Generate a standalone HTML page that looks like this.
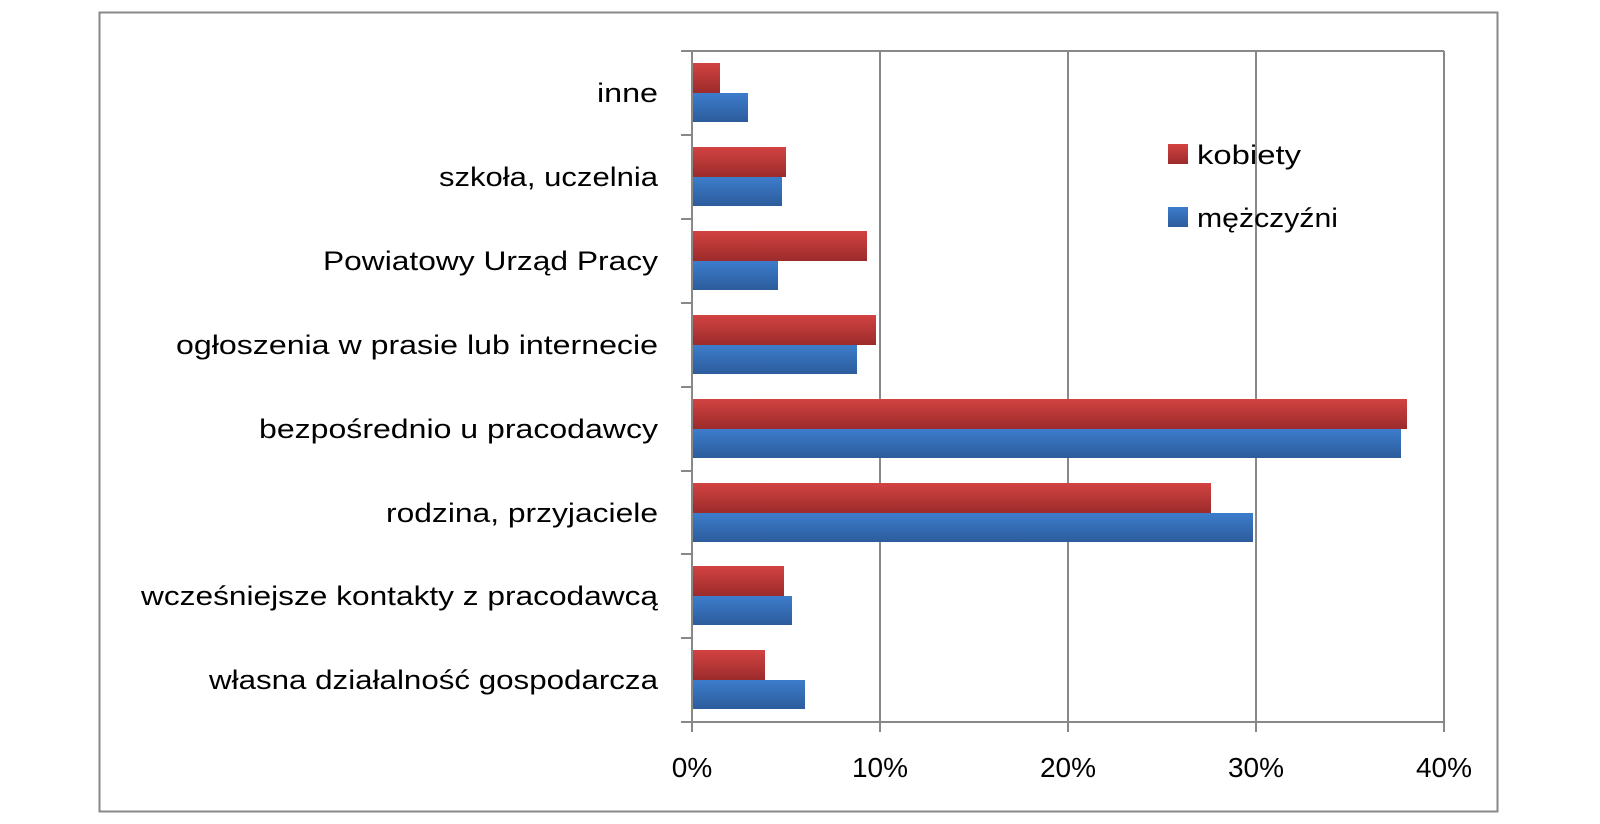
<!DOCTYPE html>
<html><head><meta charset="utf-8"><style>body{margin:0;background:#fff}svg{display:block}</style></head><body>
<svg width="1600" height="824" viewBox="0 0 1600 824" xmlns="http://www.w3.org/2000/svg" font-family="'Liberation Sans', sans-serif">
<defs>
<linearGradient id="r" x1="0" y1="0" x2="0" y2="1"><stop offset="0" stop-color="#d24342"/><stop offset="1" stop-color="#9c2b2b"/></linearGradient>
<linearGradient id="b" x1="0" y1="0" x2="0" y2="1"><stop offset="0" stop-color="#3d7dcc"/><stop offset="1" stop-color="#2c5c9c"/></linearGradient>
</defs>
<rect x="99.5" y="12.5" width="1398" height="799" fill="#fff" stroke="#888" stroke-width="2"/>
<g stroke="#888" stroke-width="2">
<line x1="692" y1="51" x2="1444" y2="51"/>
<line x1="880" y1="51" x2="880" y2="722"/>
<line x1="1068" y1="51" x2="1068" y2="722"/>
<line x1="1256" y1="51" x2="1256" y2="722"/>
<line x1="1444" y1="51" x2="1444" y2="722"/>
<line x1="692" y1="51" x2="692" y2="732"/>
<line x1="681" y1="722" x2="1444" y2="722"/>
<line x1="880" y1="722" x2="880" y2="732"/><line x1="1068" y1="722" x2="1068" y2="732"/><line x1="1256" y1="722" x2="1256" y2="732"/><line x1="1444" y1="722" x2="1444" y2="732"/>
<line x1="681" y1="51" x2="692" y2="51"/><line x1="681" y1="135" x2="692" y2="135"/><line x1="681" y1="219" x2="692" y2="219"/><line x1="681" y1="303" x2="692" y2="303"/><line x1="681" y1="387" x2="692" y2="387"/><line x1="681" y1="471" x2="692" y2="471"/><line x1="681" y1="554" x2="692" y2="554"/><line x1="681" y1="638" x2="692" y2="638"/>
</g>
<g>
<rect x="693" y="63" width="27" height="30" fill="url(#r)"/><rect x="693" y="93" width="55" height="29" fill="url(#b)"/>
<rect x="693" y="147" width="93" height="30" fill="url(#r)"/><rect x="693" y="177" width="89" height="29" fill="url(#b)"/>
<rect x="693" y="231" width="174" height="30" fill="url(#r)"/><rect x="693" y="261" width="85" height="29" fill="url(#b)"/>
<rect x="693" y="315" width="183" height="30" fill="url(#r)"/><rect x="693" y="345" width="164" height="29" fill="url(#b)"/>
<rect x="693" y="399" width="714" height="30" fill="url(#r)"/><rect x="693" y="429" width="708" height="29" fill="url(#b)"/>
<rect x="693" y="483" width="518" height="30" fill="url(#r)"/><rect x="693" y="513" width="560" height="29" fill="url(#b)"/>
<rect x="693" y="566" width="91" height="30" fill="url(#r)"/><rect x="693" y="596" width="99" height="29" fill="url(#b)"/>
<rect x="693" y="650" width="72" height="30" fill="url(#r)"/><rect x="693" y="680" width="112" height="29" fill="url(#b)"/>
</g>
<g font-size="27" fill="#000" text-anchor="end">
<text x="658" y="102" textLength="61" lengthAdjust="spacingAndGlyphs">inne</text>
<text x="658" y="186" textLength="219" lengthAdjust="spacingAndGlyphs">szkoła, uczelnia</text>
<text x="658" y="270" textLength="335" lengthAdjust="spacingAndGlyphs">Powiatowy Urząd Pracy</text>
<text x="658" y="354" textLength="482" lengthAdjust="spacingAndGlyphs">ogłoszenia w prasie lub internecie</text>
<text x="658" y="438" textLength="399" lengthAdjust="spacingAndGlyphs">bezpośrednio u pracodawcy</text>
<text x="658" y="522" textLength="272" lengthAdjust="spacingAndGlyphs">rodzina, przyjaciele</text>
<text x="658" y="605" textLength="517" lengthAdjust="spacingAndGlyphs">wcześniejsze kontakty z pracodawcą</text>
<text x="658" y="689" textLength="449" lengthAdjust="spacingAndGlyphs">własna działalność gospodarcza</text>
</g>
<g font-size="28" fill="#000" text-anchor="middle">
<text x="692" y="777">0%</text><text x="880" y="777">10%</text><text x="1068" y="777">20%</text><text x="1256" y="777">30%</text><text x="1444" y="777">40%</text>
</g>
<rect x="1168" y="144" width="20" height="20" fill="url(#r)"/>
<rect x="1168" y="207" width="20" height="20" fill="url(#b)"/>
<g font-size="27" fill="#000">
<text x="1197" y="164" textLength="104" lengthAdjust="spacingAndGlyphs">kobiety</text>
<text x="1197" y="227" textLength="141" lengthAdjust="spacingAndGlyphs">mężczyźni</text>
</g>
</svg>
</body></html>
